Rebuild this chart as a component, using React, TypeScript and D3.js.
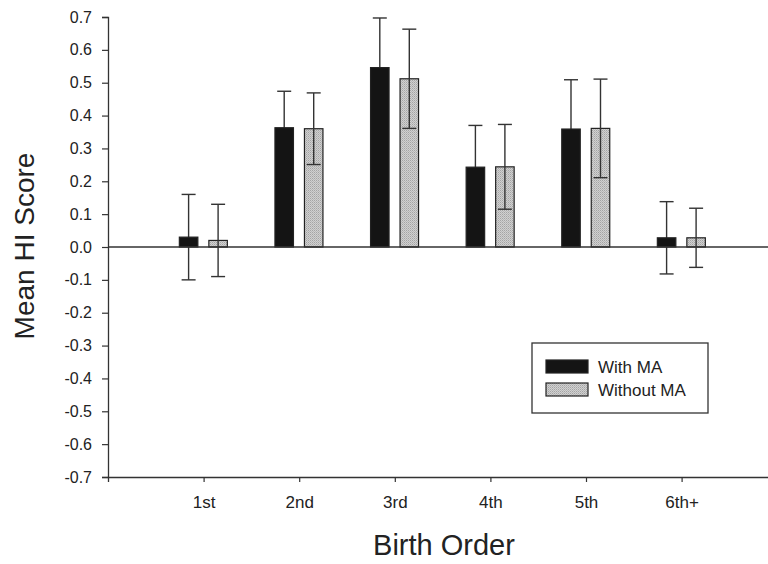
import * as d3 from "d3";
import { useEffect, useRef } from "react";

const categories = ["1st", "2nd", "3rd", "4th", "5th", "6th+"];
const withMA = [0.03, 0.363, 0.546, 0.243, 0.359, 0.028];
const withMAErr = [0.13, 0.111, 0.151, 0.127, 0.15, 0.11];
const withoutMA = [0.02, 0.36, 0.512, 0.244, 0.361, 0.028];
const withoutMAErr = [0.11, 0.109, 0.151, 0.129, 0.15, 0.09];
const yTicks = [0.7, 0.6, 0.5, 0.4, 0.3, 0.2, 0.1, 0, -0.1, -0.2, -0.3, -0.4, -0.5, -0.6, -0.7];
const seriesNames = ["With MA", "Without MA"];

const App = () => {
  const ref = useRef<SVGSVGElement>(null);

  useEffect(() => {
    const svg = d3.select(ref.current);
    svg.selectAll("*").remove();

    const font = "'Liberation Sans', Arial, sans-serif";
    const left = 108, top = 17, bottom = 477;

    const y = d3.scaleLinear().domain([-0.7, 0.7]).range([bottom, top]);
    const x = d3.scaleLinear().domain([0, 7]).range([left, left + 7 * 95.6]);

    const defs = svg.append("defs");
    const pat = defs.append("pattern")
      .attr("id", "stipple")
      .attr("width", 2).attr("height", 2)
      .attr("patternUnits", "userSpaceOnUse");
    pat.append("rect").attr("width", 2).attr("height", 2).attr("fill", "#d0d0d0");
    pat.append("rect").attr("width", 1).attr("height", 1).attr("fill", "#a4a4a4");
    pat.append("rect").attr("x", 1).attr("y", 1).attr("width", 1).attr("height", 1).attr("fill", "#b8b8b8");

    const g = svg.append("g");

    // y axis
    const yAxis = g.append("g")
      .attr("transform", `translate(${left},0)`)
      .call(d3.axisLeft(y).tickValues(yTicks).tickSize(6).tickPadding(10)
        .tickFormat((d) => (d as number).toFixed(1)));
    yAxis.select(".domain").attr("stroke", "#333").attr("stroke-width", 1.3);
    yAxis.selectAll(".tick line").attr("stroke", "#333").attr("stroke-width", 1.2);
    yAxis.selectAll(".tick text")
      .attr("font-family", font).attr("font-size", 16).attr("fill", "#222");

    // x axis (bottom)
    const xAxis = g.append("g")
      .attr("transform", `translate(0,${bottom})`)
      .call(d3.axisBottom(x).tickValues(d3.range(1, 7)).tickSize(5).tickPadding(14)
        .tickFormat((d) => categories[(d as number) - 1]));
    xAxis.select(".domain").attr("stroke", "#333").attr("stroke-width", 1.3);
    xAxis.selectAll(".tick line").attr("stroke", "#333").attr("stroke-width", 1.2);
    xAxis.selectAll(".tick text")
      .attr("font-family", font).attr("font-size", 17).attr("fill", "#222");

    const barW = 18.5;
    const offsets = [-15, 14.5];
    const series = [
      { vals: withMA, errs: withMAErr, fill: "#141414", errOnTop: false },
      { vals: withoutMA, errs: withoutMAErr, fill: "url(#stipple)", errOnTop: true },
    ];

    series.forEach((s, si) => {
      const sg = g.append("g");
      const drawErrors = () => {
        s.vals.forEach((v, i) => {
          const cx = x(i + 1) + offsets[si];
          const hi = y(v + s.errs[i]);
          const lo = y(v - s.errs[i]);
          const eg = sg.append("g").attr("stroke", "#333").attr("stroke-width", 1.4);
          eg.append("line").attr("x1", cx).attr("x2", cx).attr("y1", hi).attr("y2", lo);
          eg.append("line").attr("x1", cx - 7).attr("x2", cx + 7).attr("y1", hi).attr("y2", hi);
          eg.append("line").attr("x1", cx - 7).attr("x2", cx + 7).attr("y1", lo).attr("y2", lo);
        });
      };
      if (!s.errOnTop) drawErrors();
      sg.selectAll("rect")
        .data(s.vals)
        .enter()
        .append("rect")
        .attr("x", (d, i) => x(i + 1) + offsets[si] - barW / 2)
        .attr("y", (d) => y(Math.max(0, d)))
        .attr("width", barW)
        .attr("height", (d) => Math.abs(y(d) - y(0)))
        .attr("fill", s.fill)
        .attr("stroke", "#222")
        .attr("stroke-width", 1.2);
      if (s.errOnTop) drawErrors();
    });

    // zero line
    g.append("line")
      .attr("x1", left).attr("x2", 768)
      .attr("y1", y(0)).attr("y2", y(0))
      .attr("stroke", "#333").attr("stroke-width", 1.3);

    // axis titles
    g.append("text")
      .attr("transform", `translate(34,${(top + bottom) / 2 - 1}) rotate(-90)`)
      .attr("text-anchor", "middle")
      .attr("font-family", font).attr("font-size", 28).attr("fill", "#222")
      .text("Mean HI Score");

    g.append("text")
      .attr("x", 444).attr("y", 555)
      .attr("text-anchor", "middle")
      .attr("font-family", font).attr("font-size", 29).attr("fill", "#222")
      .text("Birth Order");

    // legend
    const lg = g.append("g").attr("transform", "translate(532,343)");
    lg.append("rect")
      .attr("width", 176).attr("height", 70)
      .attr("fill", "white").attr("stroke", "#333").attr("stroke-width", 1.3);
    seriesNames.forEach((name, i) => {
      lg.append("rect")
        .attr("x", 14).attr("y", 17 + i * 23)
        .attr("width", 42).attr("height", 13)
        .attr("fill", series[i].fill)
        .attr("stroke", "#222").attr("stroke-width", 1.2);
      lg.append("text")
        .attr("x", 66).attr("y", 30 + i * 23)
        .attr("font-family", font).attr("font-size", 17).attr("fill", "#222")
        .text(name);
    });
  }, []);

  return (
    <svg
      ref={ref}
      width={768}
      height={564}
      style={{ position: "absolute", left: 0, top: 0, background: "white" }}
    />
  );
};

export default App;
